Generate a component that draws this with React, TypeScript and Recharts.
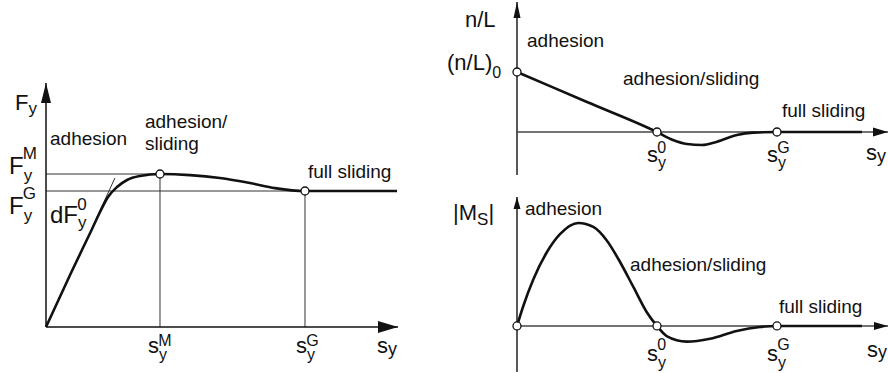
import React from "react";
import { LineChart, Line, XAxis, YAxis, ReferenceLine, ReferenceDot } from "recharts";

const FONT = '"Liberation Sans", Arial, Helvetica, sans-serif';
const INK = "#111";
const THIN = "#333";

// lateral force F_y over lateral slip s_y (normalised to the peak)
const forceSlip = [0, 0.219, 0.404, 0.474, 0.544, 0.623, 0.711, 0.825, 1.0, 1.263, 1.526, 1.789, 2.009, 2.272, 3.079];
const forceValue = [0, 0.353, 0.641, 0.752, 0.85, 0.915, 0.961, 0.987, 1.0, 0.993, 0.974, 0.941, 0.908, 0.889, 0.889];
const slipPeak = 1.0; // s_y^M
const slipSlide = 2.272; // s_y^G
const forcePeak = 1.0; // F_y^M
const forceSlide = 0.889; // F_y^G
const initialSlope = 1.61; // dF_y^0
const forceTangent = [0.439, 0.605];

// pneumatic trail n/L
const trailSlip = [0, 0.5, 1.0, 1.114, 1.214, 1.321, 1.429, 1.571, 1.686, 1.857, 2.464];
const trailValue = [1.0, 0.5, 0, -0.133, -0.2, -0.217, -0.161, -0.05, -0.011, 0, 0];

// self-aligning moment |M_S|
const momentSlip = [0, 0.045, 0.117, 0.212, 0.307, 0.438, 0.545, 0.64, 0.736, 0.831, 0.926, 1.0, 1.069, 1.212, 1.379, 1.569, 1.736, 1.857, 2.464];
const momentValue = [0, 0.194, 0.454, 0.713, 0.891, 1.0, 0.961, 0.832, 0.621, 0.379, 0.136, 0, -0.098, -0.152, -0.124, -0.049, -0.01, 0, 0];

const slipZero = 1.0; // s_y^0
const slipFull = 1.857; // s_y^G on the right

const zip = (xs: number[], ys: number[]) => xs.map((s, i) => ({ s, v: ys[i] }));

type LabelOpts = {
  base: string;
  sub?: string;
  sup?: string;
  tail?: string;
  dx: number;
  dy: number;
  size?: number;
  small?: number;
  subDy?: number;
  supDy?: number;
};

// text with stacked sub/superscript, drawn at a reference point
const mathLabel = (o: LabelOpts) => (p: any) => {
  const size = o.size ?? 22;
  const small = o.small ?? 17;
  const subDy = o.subDy ?? 6;
  const supDy = o.supDy ?? -14;
  const subW = o.sub ? o.sub.length * small * 0.55 : 0;
  return (
    <text x={p.cx + o.dx} y={p.cy + o.dy} fontFamily={FONT} fontSize={size} fill={INK}>
      <tspan>{o.base}</tspan>
      {o.sub && (
        <tspan fontSize={small} dy={subDy}>
          {o.sub}
        </tspan>
      )}
      {o.sup && (
        <tspan fontSize={small} dx={o.sub ? -subW : 0} dy={o.sub ? supDy - subDy : supDy}>
          {o.sup}
        </tspan>
      )}
      {o.tail && (
        <tspan fontSize={size} dy={-subDy}>
          {o.tail}
        </tspan>
      )}
    </text>
  );
};

const words = (t: string, dx: number, dy: number) => (p: any) => (
  <text x={p.cx + dx} y={p.cy + dy} fontFamily={FONT} fontSize={19} fill={INK}>
    {t}
  </text>
);

const arrow = (dir: "up" | "right", len: number, half: number) => (p: any) => {
  const { cx, cy } = p;
  const pts =
    dir === "up"
      ? `${cx},${cy} ${cx - half},${cy + len} ${cx + half},${cy + len}`
      : `${cx},${cy} ${cx - len},${cy - half} ${cx - len},${cy + half}`;
  return <polygon points={pts} fill={INK} />;
};

const ring = { r: 4, fill: "#fff", stroke: INK, strokeWidth: 1.3 };

function ForceChart() {
  const xMax = 3.088;
  const yMax = 1.595;
  return (
    <LineChart width={420} height={373} data={zip(forceSlip, forceValue)} margin={{ top: 83, right: 22, bottom: 46, left: 46 }}>
      <XAxis type="number" dataKey="s" domain={[0, xMax]} hide />
      <YAxis type="number" domain={[0, yMax]} hide />
      <ReferenceLine segment={[{ x: 0, y: forcePeak }, { x: slipPeak, y: forcePeak }]} stroke={THIN} strokeWidth={1} ifOverflow="visible" />
      <ReferenceLine segment={[{ x: 0, y: forceSlide }, { x: 3.079, y: forceSlide }]} stroke={THIN} strokeWidth={1} ifOverflow="visible" />
      <ReferenceLine segment={[{ x: slipPeak, y: 0 }, { x: slipPeak, y: forcePeak }]} stroke={THIN} strokeWidth={1} ifOverflow="visible" />
      <ReferenceLine segment={[{ x: slipSlide, y: 0 }, { x: slipSlide, y: forceSlide }]} stroke={THIN} strokeWidth={1} ifOverflow="visible" />
      <ReferenceLine
        segment={forceTangent.map((s) => ({ x: s, y: s * initialSlope }))}
        stroke={THIN}
        strokeWidth={1}
        ifOverflow="visible"
      />
      <ReferenceLine segment={[{ x: 0, y: 0 }, { x: 0, y: yMax }]} stroke={INK} strokeWidth={1.5} ifOverflow="visible" />
      <ReferenceLine segment={[{ x: 0, y: 0 }, { x: xMax, y: 0 }]} stroke={INK} strokeWidth={1.5} ifOverflow="visible" />
      <Line type="monotone" dataKey="v" stroke={INK} strokeWidth={2.6} dot={false} isAnimationActive={false} />
      <ReferenceDot x={0} y={yMax} ifOverflow="visible" shape={arrow("up", 20, 5)} />
      <ReferenceDot x={xMax} y={0} ifOverflow="visible" shape={arrow("right", 20, 6)} />
      <ReferenceDot x={slipPeak} y={forcePeak} {...ring} ifOverflow="visible" />
      <ReferenceDot x={slipSlide} y={forceSlide} {...ring} ifOverflow="visible" />

      <ReferenceDot x={0} y={yMax} ifOverflow="visible" shape={mathLabel({ base: "F", sub: "y", dx: -31, dy: 27, subDy: 4 })} />
      <ReferenceDot x={0} y={forcePeak} ifOverflow="visible" shape={mathLabel({ base: "F", sub: "y", sup: "M", dx: -37, dy: 0, size: 24, subDy: 7, supDy: -15 })} />
      <ReferenceDot x={0} y={forceSlide} ifOverflow="visible" shape={mathLabel({ base: "F", sub: "y", sup: "G", dx: -37, dy: 23, size: 24, subDy: 7, supDy: -15 })} />
      <ReferenceDot x={0} y={forceSlide} ifOverflow="visible" shape={mathLabel({ base: "dF", sub: "y", sup: "0", dx: 4, dy: 32, size: 24, subDy: 5, supDy: -13 })} />
      <ReferenceDot x={0} y={forcePeak} ifOverflow="visible" shape={words("adhesion", 4, -29)} />
      <ReferenceDot x={slipPeak} y={forcePeak} ifOverflow="visible" shape={words("adhesion/", -15, -46)} />
      <ReferenceDot x={slipPeak} y={forcePeak} ifOverflow="visible" shape={words("sliding", -15, -24)} />
      <ReferenceDot x={slipSlide} y={forceSlide} ifOverflow="visible" shape={words("full sliding", 3, -13)} />
      <ReferenceDot x={slipPeak} y={0} ifOverflow="visible" shape={mathLabel({ base: "s", sub: "y", sup: "M", dx: -12, dy: 26, small: 16, subDy: 7, supDy: -7 })} />
      <ReferenceDot x={slipSlide} y={0} ifOverflow="visible" shape={mathLabel({ base: "s", sub: "y", sup: "G", dx: -9, dy: 26, small: 16, subDy: 7, supDy: -7 })} />
      <ReferenceDot x={xMax} y={0} ifOverflow="visible" shape={mathLabel({ base: "s", sub: "y", dx: -21, dy: 26, small: 18, subDy: 2 })} />
    </LineChart>
  );
}

function TrailChart() {
  const xMax = 2.65;
  const yMax = 2.167;
  const yMin = -0.717;
  return (
    <LineChart width={468} height={185} data={zip(trailSlip, trailValue)} margin={{ top: 2, right: 0, bottom: 10, left: 97 }}>
      <XAxis type="number" dataKey="s" domain={[0, xMax]} hide />
      <YAxis type="number" domain={[yMin, yMax]} hide />
      <ReferenceLine segment={[{ x: 0, y: yMin }, { x: 0, y: yMax }]} stroke={INK} strokeWidth={1.4} ifOverflow="visible" />
      <ReferenceLine segment={[{ x: 0, y: 0 }, { x: xMax, y: 0 }]} stroke="#444" strokeWidth={1.4} ifOverflow="visible" />
      <Line type="monotone" dataKey="v" stroke={INK} strokeWidth={2.6} dot={false} isAnimationActive={false} />
      <ReferenceDot x={0} y={yMax} ifOverflow="visible" shape={arrow("up", 16, 3.5)} />
      <ReferenceDot x={xMax} y={0} ifOverflow="visible" shape={arrow("right", 15, 4.5)} />
      <ReferenceDot x={0} y={1} {...ring} ifOverflow="visible" />
      <ReferenceDot x={slipZero} y={0} {...ring} ifOverflow="visible" />
      <ReferenceDot x={slipFull} y={0} {...ring} ifOverflow="visible" />

      <ReferenceDot x={0} y={yMax} ifOverflow="visible" shape={mathLabel({ base: "n/L", dx: -52, dy: 25, size: 22 })} />
      <ReferenceDot x={0} y={yMax} ifOverflow="visible" shape={words("adhesion", 10, 45)} />
      <ReferenceDot x={0} y={1} ifOverflow="visible" shape={mathLabel({ base: "(n/L)", sub: "0", dx: -70, dy: -2, size: 22, small: 16, subDy: 8 })} />
      <ReferenceDot x={slipZero} y={0} ifOverflow="visible" shape={words("adhesion/sliding", -34, -47)} />
      <ReferenceDot x={slipFull} y={0} ifOverflow="visible" shape={words("full sliding", 5, -15)} />
      <ReferenceDot x={slipZero} y={0} ifOverflow="visible" shape={mathLabel({ base: "s", sub: "y", sup: "0", dx: -10, dy: 30, small: 16, subDy: 6, supDy: -9 })} />
      <ReferenceDot x={slipFull} y={0} ifOverflow="visible" shape={mathLabel({ base: "s", sub: "y", sup: "G", dx: -10, dy: 30, small: 16, subDy: 6, supDy: -9 })} />
      <ReferenceDot x={xMax} y={0} ifOverflow="visible" shape={mathLabel({ base: "s", sub: "y", dx: -22, dy: 28, small: 18, subDy: 2 })} />
    </LineChart>
  );
}

function MomentChart() {
  const xMax = 2.65;
  const yMax = 1.252;
  const yMin = -0.447;
  return (
    <LineChart width={468} height={188} data={zip(momentSlip, momentValue)} margin={{ top: 12, right: 0, bottom: 1, left: 97 }}>
      <XAxis type="number" dataKey="s" domain={[0, xMax]} hide />
      <YAxis type="number" domain={[yMin, yMax]} hide />
      <ReferenceLine segment={[{ x: 0, y: yMin }, { x: 0, y: yMax }]} stroke={INK} strokeWidth={1.4} ifOverflow="visible" />
      <ReferenceLine segment={[{ x: 0, y: 0 }, { x: xMax, y: 0 }]} stroke="#444" strokeWidth={1.4} ifOverflow="visible" />
      <Line type="monotone" dataKey="v" stroke={INK} strokeWidth={2.6} dot={false} isAnimationActive={false} />
      <ReferenceDot x={0} y={yMax} ifOverflow="visible" shape={arrow("up", 12, 3.5)} />
      <ReferenceDot x={xMax} y={0} ifOverflow="visible" shape={arrow("right", 14, 4)} />
      <ReferenceDot x={0} y={0} {...ring} ifOverflow="visible" />
      <ReferenceDot x={slipZero} y={0} {...ring} ifOverflow="visible" />
      <ReferenceDot x={slipFull} y={0} {...ring} ifOverflow="visible" />

      <ReferenceDot x={0} y={yMax} ifOverflow="visible" shape={mathLabel({ base: "|M", sub: "S", tail: "|", dx: -64, dy: 23, size: 22, small: 17, subDy: 5 })} />
      <ReferenceDot x={0} y={yMax} ifOverflow="visible" shape={words("adhesion", 8, 18)} />
      <ReferenceDot x={slipZero} y={0} ifOverflow="visible" shape={words("adhesion/sliding", -27, -55)} />
      <ReferenceDot x={slipFull} y={0} ifOverflow="visible" shape={words("full sliding", 2, -13)} />
      <ReferenceDot x={slipZero} y={0} ifOverflow="visible" shape={mathLabel({ base: "s", sub: "y", sup: "0", dx: -10, dy: 35, small: 16, subDy: 7, supDy: -11 })} />
      <ReferenceDot x={slipFull} y={0} ifOverflow="visible" shape={mathLabel({ base: "s", sub: "y", sup: "G", dx: -10, dy: 35, small: 16, subDy: 7, supDy: -11 })} />
      <ReferenceDot x={xMax} y={0} ifOverflow="visible" shape={mathLabel({ base: "s", sub: "y", dx: -21, dy: 31, small: 18, subDy: 1 })} />
    </LineChart>
  );
}

export default function App() {
  return (
    <div style={{ position: "absolute", left: 0, top: 0, width: 888, height: 373, background: "#fff", overflow: "hidden" }}>
      <div style={{ position: "absolute", left: 0, top: 0 }}>
        <ForceChart />
      </div>
      <div style={{ position: "absolute", left: 420, top: 0 }}>
        <TrailChart />
      </div>
      <div style={{ position: "absolute", left: 420, top: 185 }}>
        <MomentChart />
      </div>
    </div>
  );
}
